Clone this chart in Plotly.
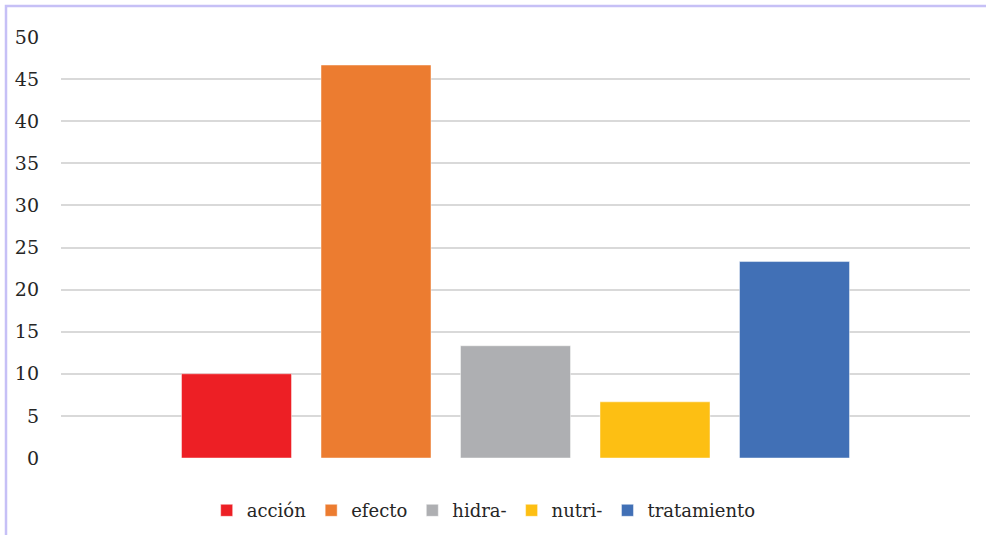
import plotly.graph_objects as go

# Share of occurrences per term (%)
series_names = ["acción", "efecto", "hidra-", "nutri-", "tratamiento"]
series_values = [10.0, 46.67, 13.33, 6.67, 23.33]
series_colors = ["#ED1F25", "#EC7C30", "#AEAFB2", "#FDBF13", "#4170B6"]
category = [""]
y_ticks = list(range(0, 55, 5))

fig = go.Figure()
for name, val, col in zip(series_names, series_values, series_colors):
    fig.add_trace(go.Bar(
        x=category, y=[val], name=name,
        marker=dict(color=col, line=dict(color="rgba(255,255,255,0.45)", width=1)),
    ))

W, H = 986, 535
ml, mr, mt, mb = 61, 16, 37, 77
pw, ph = W - ml - mr, H - mt - mb

# outer frame line (top and left edges of the chart box)
fx = (6 - ml) / pw
fy = (H - mb - 6) / ph
fig.add_shape(type="rect", xref="paper", yref="paper",
              x0=fx, x1=1.3, y0=-0.5, y1=fy,
              line=dict(color="#C6C0F6", width=2.5), layer="below")

serif = "DejaVu Serif"
fig.update_layout(
    width=W, height=H,
    margin=dict(l=ml, r=mr, t=mt, b=mb, autoexpand=False),
    paper_bgcolor="white", plot_bgcolor="white",
    barmode="group", bargap=0.2327, bargroupgap=0.2115,
    font=dict(family=serif, size=19, color="#262626"),
    showlegend=True,
    legend=dict(orientation="h", x=0.465, xanchor="center", y=-0.125, yanchor="middle",
                font=dict(family=serif, size=18), itemclick=False, traceorder="normal"),
    xaxis=dict(showticklabels=False, showgrid=False, zeroline=False, showline=False),
    yaxis=dict(range=[0, 50], tickvals=y_ticks, showgrid=True, gridcolor="#D9D9D9",
               gridwidth=2, zeroline=False, showline=False, ticks="",
               tickfont=dict(family=serif, size=19), ticklabelstandoff=21),
)

fig.write_html("out.html")
